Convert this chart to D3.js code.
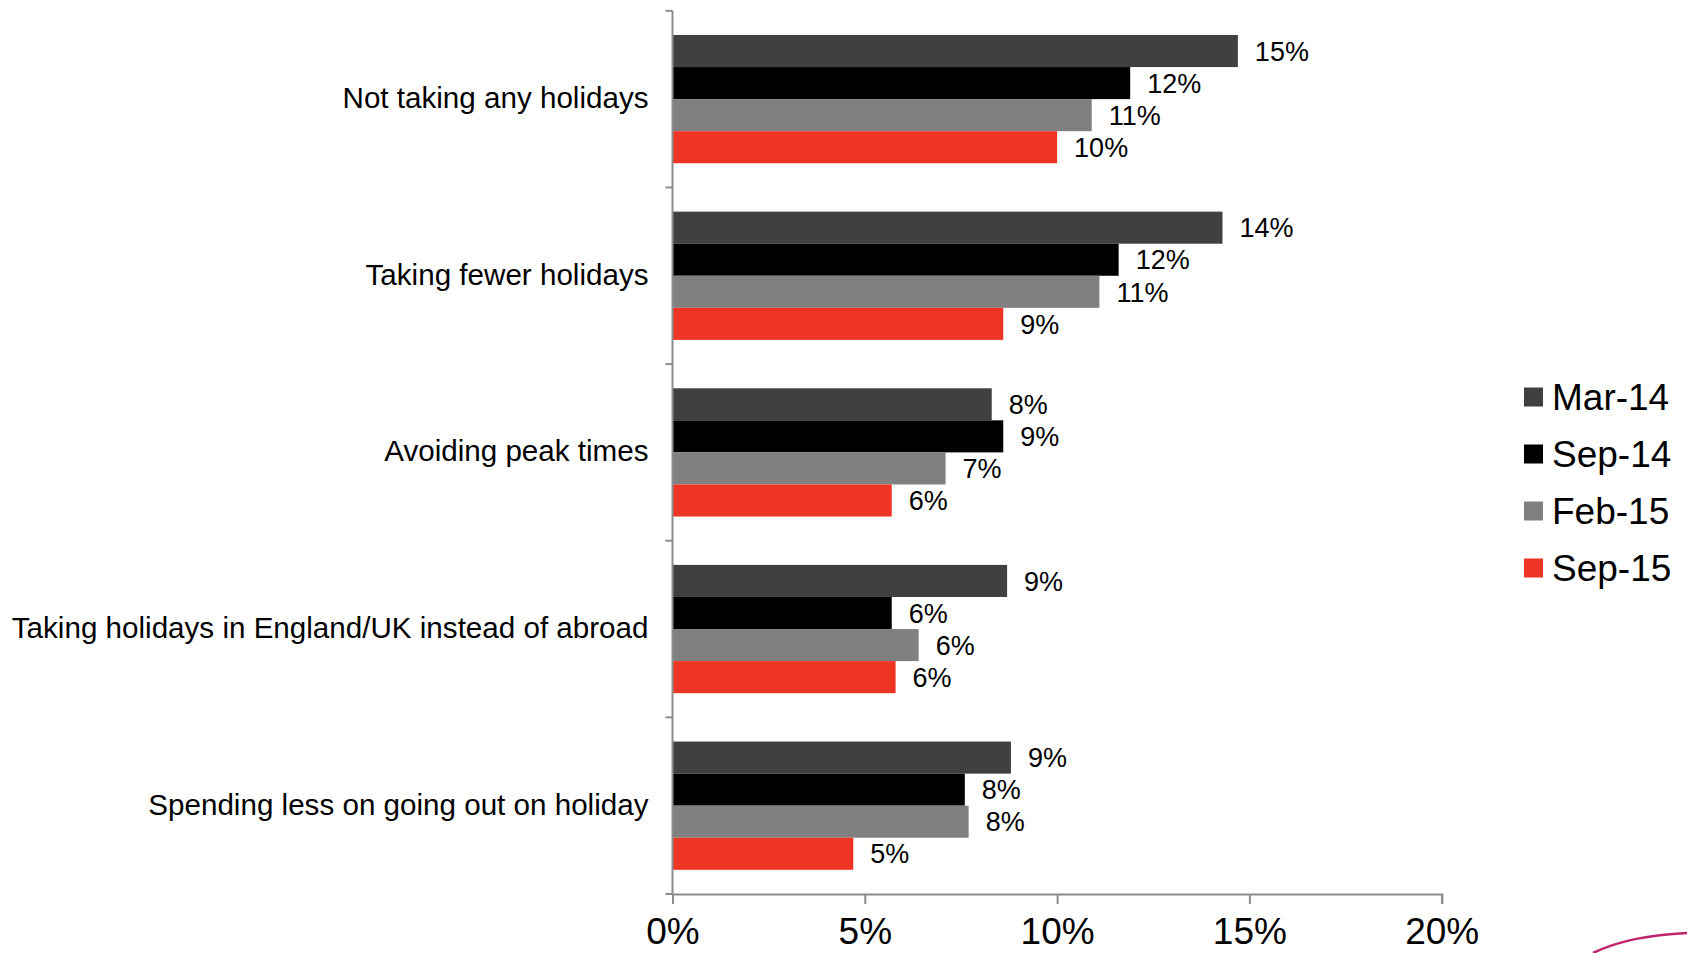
<!DOCTYPE html>
<html>
<head>
<meta charset="utf-8">
<script src="https://cdn.jsdelivr.net/npm/d3@7"></script>
<style>
  html, body { margin: 0; padding: 0; background: #ffffff; }
  svg { display: block; }
  text { font-family: "Liberation Sans", Arial, sans-serif; fill: #000; }
</style>
</head>
<body>
<svg id="chart" width="1687" height="953"></svg>
<script>
// Holiday cut-backs by survey wave (share of respondents)
const categories = [
  "Not taking any holidays",
  "Taking fewer holidays",
  "Avoiding peak times",
  "Taking holidays in England/UK instead of abroad",
  "Spending less on going out on holiday"
];
const seriesNames = ["Mar-14", "Sep-14", "Feb-15", "Sep-15"];
const seriesColors = ["#404040", "#000000", "#808080", "#ee3524"];

const mar14 = [0.147, 0.143, 0.083, 0.087, 0.088];
const sep14 = [0.119, 0.116, 0.086, 0.057, 0.076];
const feb15 = [0.109, 0.111, 0.071, 0.064, 0.077];
const sep15 = [0.100, 0.086, 0.057, 0.058, 0.047];
const seriesValues = [mar14, sep14, feb15, sep15];

const xTicks = [0, 0.05, 0.10, 0.15, 0.20];

const svg = d3.select("#chart");
const plot = { left: 672.5, top: 10.8, right: 1441.7, bottom: 894 };

const x = d3.scaleLinear().domain([0, 0.20]).range([plot.left, plot.right]);
const y = d3.scaleBand().domain(categories).range([plot.top, plot.bottom]).padding(0);
const gap = y.bandwidth() * 0.137;
const y1 = d3.scaleBand().domain(seriesNames)
  .range([gap, y.bandwidth() - gap]).padding(0);

const fmt = d3.format(".0%");
const axisColor = "#8c8c8c";

// Bars and value labels
const rows = categories.map((c, i) => ({
  cat: c,
  vals: seriesNames.map((s, k) => ({ s, k, v: seriesValues[k][i] }))
}));

const groups = svg.append("g").selectAll("g").data(rows).join("g")
  .attr("transform", d => `translate(0,${y(d.cat)})`);

groups.selectAll("rect").data(d => d.vals).join("rect")
  .attr("x", x(0))
  .attr("y", d => y1(d.s))
  .attr("width", d => x(d.v) - x(0))
  .attr("height", y1.bandwidth())
  .attr("fill", d => seriesColors[d.k]);

groups.selectAll("text.val").data(d => d.vals).join("text")
  .attr("class", "val")
  .attr("x", d => x(d.v) + 17)
  .attr("y", d => y1(d.s) + y1.bandwidth() / 2)
  .attr("dy", "0.36em")
  .style("font-size", "27px")
  .text(d => fmt(d.v));

// Category axis: vertical line with ticks at band boundaries
const yAxis = svg.append("g");
yAxis.append("line")
  .attr("x1", plot.left).attr("x2", plot.left)
  .attr("y1", plot.top).attr("y2", plot.bottom)
  .attr("stroke", axisColor).attr("stroke-width", 2);
const bounds = categories.map(c => y(c)).concat([y.range()[1]]);
yAxis.selectAll("line.tick").data(bounds).join("line")
  .attr("class", "tick")
  .attr("x1", plot.left - 7).attr("x2", plot.left)
  .attr("y1", d => d).attr("y2", d => d)
  .attr("stroke", axisColor).attr("stroke-width", 2);
yAxis.selectAll("text").data(categories).join("text")
  .attr("x", plot.left - 24)
  .attr("y", d => y(d) + y.bandwidth() / 2)
  .attr("dy", "0.3em")
  .attr("text-anchor", "end")
  .style("font-size", "29.6px")
  .text(d => d);

// Value axis
const xAxis = svg.append("g").attr("transform", `translate(0,${plot.bottom})`)
  .call(d3.axisBottom(x).tickValues(xTicks).tickFormat(fmt).tickSizeOuter(0).tickSize(10).tickPadding(0));
xAxis.select(".domain").attr("stroke", axisColor).attr("stroke-width", 2);
xAxis.selectAll(".tick line").attr("stroke", axisColor).attr("stroke-width", 2);
xAxis.selectAll(".tick text")
  .attr("y", 50).attr("dy", 0)
  .style("font-size", "37px")
  .style("font-family", "'Liberation Sans', Arial, sans-serif")
  .attr("fill", "#000");

// Legend
const legend = svg.append("g").selectAll("g").data(seriesNames).join("g")
  .attr("transform", (d, i) => `translate(1524,${397 + i * 57})`);
legend.append("rect")
  .attr("x", 0).attr("y", -9.5).attr("width", 19).attr("height", 19)
  .attr("fill", (d, i) => seriesColors[i]);
legend.append("text")
  .attr("x", 28).attr("y", 0).attr("dy", "0.36em")
  .style("font-size", "37px")
  .text(d => d);

// Corner logo swash
svg.append("path")
  .attr("d", "M1593,953 C1620,940 1650,935 1687,933")
  .attr("fill", "none")
  .attr("stroke", "#c0246e")
  .attr("stroke-width", 2.5);
</script>
</body>
</html>
